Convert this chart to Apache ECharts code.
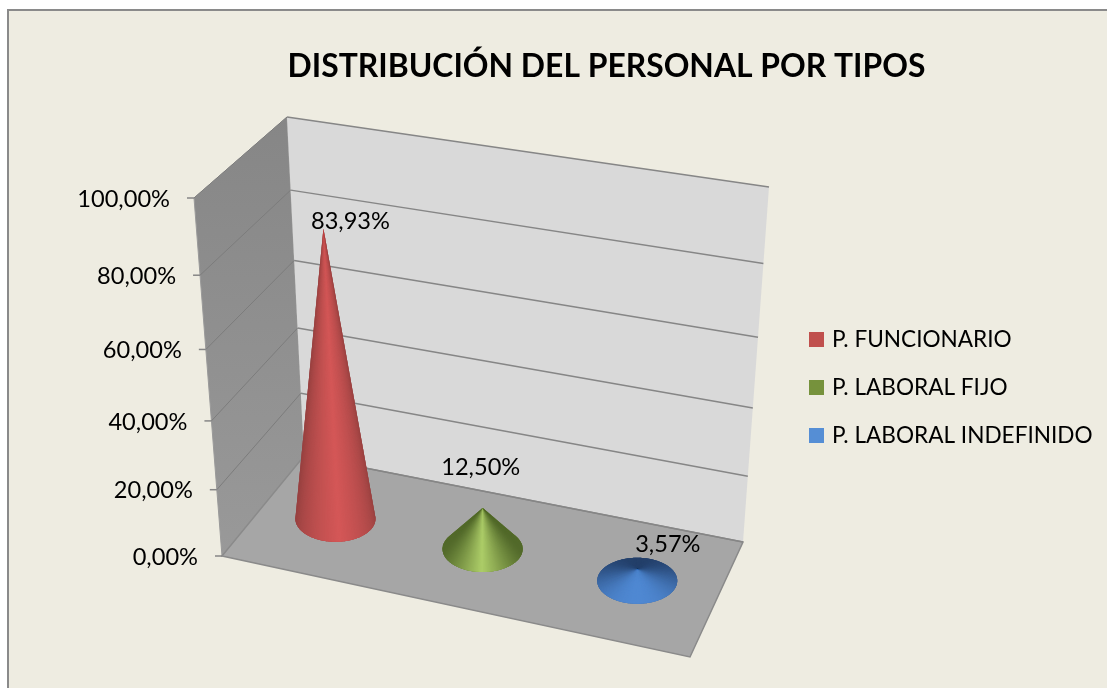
<!DOCTYPE html>
<html><head><meta charset="utf-8">
<style>html,body{margin:0;padding:0;background:#fff}#c{width:1107px;height:688px}</style>
<script src="https://cdn.jsdelivr.net/npm/echarts@6/dist/echarts.min.js"></script>
</head><body><div id="c"></div>
<script>
const titleText = 'DISTRIBUCIÓN DEL PERSONAL POR TIPOS';
const categories = ['P. FUNCIONARIO', 'P. LABORAL FIJO', 'P. LABORAL INDEFINIDO'];
const values = [83.93, 12.50, 3.57];
const dataLabels = ['83,93%', '12,50%', '3,57%'];
const tickValues = [0, 20, 40, 60, 80, 100];
const tickLabels = ['0,00%', '20,00%', '40,00%', '60,00%', '80,00%', '100,00%'];

const FONT = 'Lato, Carlito, sans-serif';
const legendColors = ['#C0504D', '#76923C', '#558ED5'];
const coneShades = [
  {dark: '#964140', light: '#d45757', phase: 0.12, power: 0.55},
  {dark: '#52692a', light: '#adcd68', phase: 0, power: 0.95},
  {dark: '#233f69', light: '#4f88d2', phase: 0, power: 0.95}
];
const labelOffsets = [[27, -7], [-2, -41], [30, -25]];
const floorQuad = [[222, 556], [690, 657], [743, 542], [304, 456]];
const ceilQuad = [[194, 198], [720, 283], [769, 187], [287, 117]];
const PERSPECTIVE = 1.1, DEPTH_MID = 0.5, RX = 40, RY = 23;

function makeHomography(q) {
  const [x0, y0] = q[0], [x1, y1] = q[1], [x2, y2] = q[2], [x3, y3] = q[3];
  const dx1 = x1 - x2, dx2 = x3 - x2, sx = x0 - x1 + x2 - x3;
  const dy1 = y1 - y2, dy2 = y3 - y2, sy = y0 - y1 + y2 - y3;
  const den = dx1 * dy2 - dx2 * dy1;
  const g = (sx * dy2 - dx2 * sy) / den, h = (dx1 * sy - sx * dy1) / den;
  const a = x1 - x0 + g * x1, b = x3 - x0 + h * x3, d = y1 - y0 + g * y1, e = y3 - y0 + h * y3;
  return (u, v) => {
    const w = g * u + h * v + 1;
    return [(a * u + b * v + x0) / w, (d * u + e * v + y0) / w];
  };
}
const floorH = makeHomography(floorQuad), ceilH = makeHomography(ceilQuad);
function project(u, depth, h) {
  const s = h / (h + PERSPECTIVE * (1 - h));
  const f = floorH(u, depth), c = ceilH(u, depth);
  return [f[0] + (c[0] - f[0]) * s, f[1] + (c[1] - f[1]) * s];
}
// library scale -> normalised plot coordinates
function toPlot(params, api, cat, val) {
  const p = api.coord([cat, val]), cs = params.coordSys;
  return {u: (p[0] - cs.x) / cs.width, h: (cs.y + cs.height - p[1]) / cs.height};
}
function hex(c) { return [1, 3, 5].map(i => parseInt(c.substr(i, 2), 16)); }
function mix(a, b, t) {
  const A = hex(a), B = hex(b);
  return 'rgb(' + A.map((v, i) => Math.round(v + (B[i] - v) * t)).join(',') + ')';
}
function line(a, b, color, width) {
  return {type: 'line', shape: {x1: a[0], y1: a[1], x2: b[0], y2: b[1]}, style: {stroke: color, lineWidth: width}, silent: true};
}
function poly(points, fill) {
  return {type: 'polygon', shape: {points}, style: fill, silent: true};
}

function renderWalls(params, api) {
  const tick = api.value(0), ch = [];
  const h = toPlot(params, api, 0, tick).h;
  if (params.dataIndex === 0) {
    ch.push(poly([project(0,0,0), project(0,1,0), project(0,1,1), project(0,0,1)], {
      fill: {type: 'linear', x: 0, y: 0, x2: 0, y2: 1, colorStops: [{offset: 0, color: '#868686'}, {offset: 1, color: '#999999'}]}, stroke: '#9a9a9a', lineWidth: 1}));
    ch.push(poly([project(0,1,0), project(1,1,0), project(1,1,1), project(0,1,1)], {fill: '#D9D9D9'}));
    ch.push(poly([project(0,0,0), project(1,0,0), project(1,1,0), project(0,1,0)], {fill: '#A6A6A6', stroke: '#8a8a8a', lineWidth: 1.5}));
  }
  const front = project(0, 0, h), back = project(0, 1, h), right = project(1, 1, h);
  if (tick > 0) ch.push(line(front, back, '#7c7c7c', 1));
  ch.push(line(back, right, '#868686', 1.5));
  ch.push(line([front[0] - 7, front[1]], front, '#868686', 1.5));
  ch.push({type: 'text', silent: true, style: {
    text: tickLabels[params.dataIndex], x: front[0] - 24, y: front[1] + 1,
    align: 'right', verticalAlign: 'middle', font: '23.6px ' + FONT, fill: '#000'}});
  return {type: 'group', children: ch};
}

function renderCone(i) {
  return function (params, api) {
    const base = toPlot(params, api, api.value(0), 0);
    const top = toPlot(params, api, api.value(0), api.value(1));
    const c = project(base.u, DEPTH_MID, 0), a = project(top.u, DEPTH_MID, top.h);
    const shade = coneShades[i], N = 180, step = 2 * Math.PI / N;
    const at = th => [c[0] + RX * Math.sin(th), c[1] + RY * Math.cos(th)];
    const px = (a[0] - c[0]) / RX, py = (a[1] - c[1]) / RY;
    const tall = Math.hypot(px, py) > 1;
    const facing = th => px * Math.sin(th) + py * Math.cos(th);
    const wedges = [], silhouette = [], under = [];
    for (let k = 0; k < N; k++) {
      const th = -Math.PI + (k + 0.5) * step;
      under.push(at(th));
      if (tall && facing(th) > 1.02) continue;   // hidden behind the surface
      silhouette.push(at(th));
      const raw = tall
        ? (Math.cos(th) > 0 ? 1 - Math.abs(Math.sin(th - shade.phase)) : 0)
        : (Math.cos(th) + 1) / 2;
      const t = Math.pow(Math.max(0, raw), shade.power);
      wedges.push(poly([a, at(th - step * 1.1), at(th), at(th + step * 1.1)], {fill: mix(shade.dark, shade.light, t)}));
    }
    const base0 = mix(shade.dark, shade.light, 0.2);
    const ch = [poly(under, {fill: base0})];
    if (tall) {
      // keep the arc in angular order starting from a tangent point
      const start = silhouette.findIndex((p, n) => n > 0 && Math.hypot(p[0] - silhouette[n - 1][0], p[1] - silhouette[n - 1][1]) > 8);
      const arc = start > 0 ? silhouette.slice(start).concat(silhouette.slice(0, start)) : silhouette;
      ch.push(poly([a].concat(arc), {fill: base0}));
    }
    wedges.forEach(w => ch.push(w));
    const off = labelOffsets[i];
    ch.push({type: 'text', silent: true, z2: 10, style: {
      text: dataLabels[i], x: a[0] + off[0], y: a[1] + off[1],
      align: 'center', verticalAlign: 'middle', font: '23.6px ' + FONT, fill: '#000'}});
    return {type: 'group', children: ch};
  };
}

const chart = echarts.init(document.getElementById('c'), null, {renderer: 'canvas'});
chart.setOption({
  animation: false,
  backgroundColor: '#fff',
  title: {text: titleText, left: 601.5, top: 46, textAlign: 'center',
    textStyle: {fontFamily: FONT, fontWeight: 'bold', fontSize: 31.85, color: '#000'}},
  legend: {data: categories, orient: 'vertical', left: 809, top: 327, padding: 0, itemGap: 23,
    itemWidth: 15, itemHeight: 15, icon: 'rect', selectedMode: false,
    textStyle: {fontFamily: FONT, fontSize: 22.6, color: '#000', lineHeight: 25, padding: [0, 0, 0, 3]}},
  grid: {left: 222, top: 117, width: 520, height: 440},
  xAxis: {type: 'category', data: categories, show: false},
  yAxis: {type: 'value', min: 0, max: 100, interval: 20, show: false},
  graphic: [{type: 'rect', z: 0, silent: true, shape: {x: 8, y: 10, width: 1300, height: 900},
    style: {fill: '#EEECE1', stroke: '#8a8a8a', lineWidth: 2}}],
  series: [
    {type: 'custom', name: 'walls', z: 2, silent: true, renderItem: renderWalls,
     coordinateSystem: 'cartesian2d', data: tickValues.map(v => [v]), encode: {y: 0}}
  ].concat(categories.map((name, i) => ({
    type: 'custom', name, z: 3 + i, silent: true, renderItem: renderCone(i),
    coordinateSystem: 'cartesian2d', itemStyle: {color: legendColors[i]},
    data: [[i, values[i]]], encode: {x: 0, y: 1}
  })))
});
</script></body></html>
